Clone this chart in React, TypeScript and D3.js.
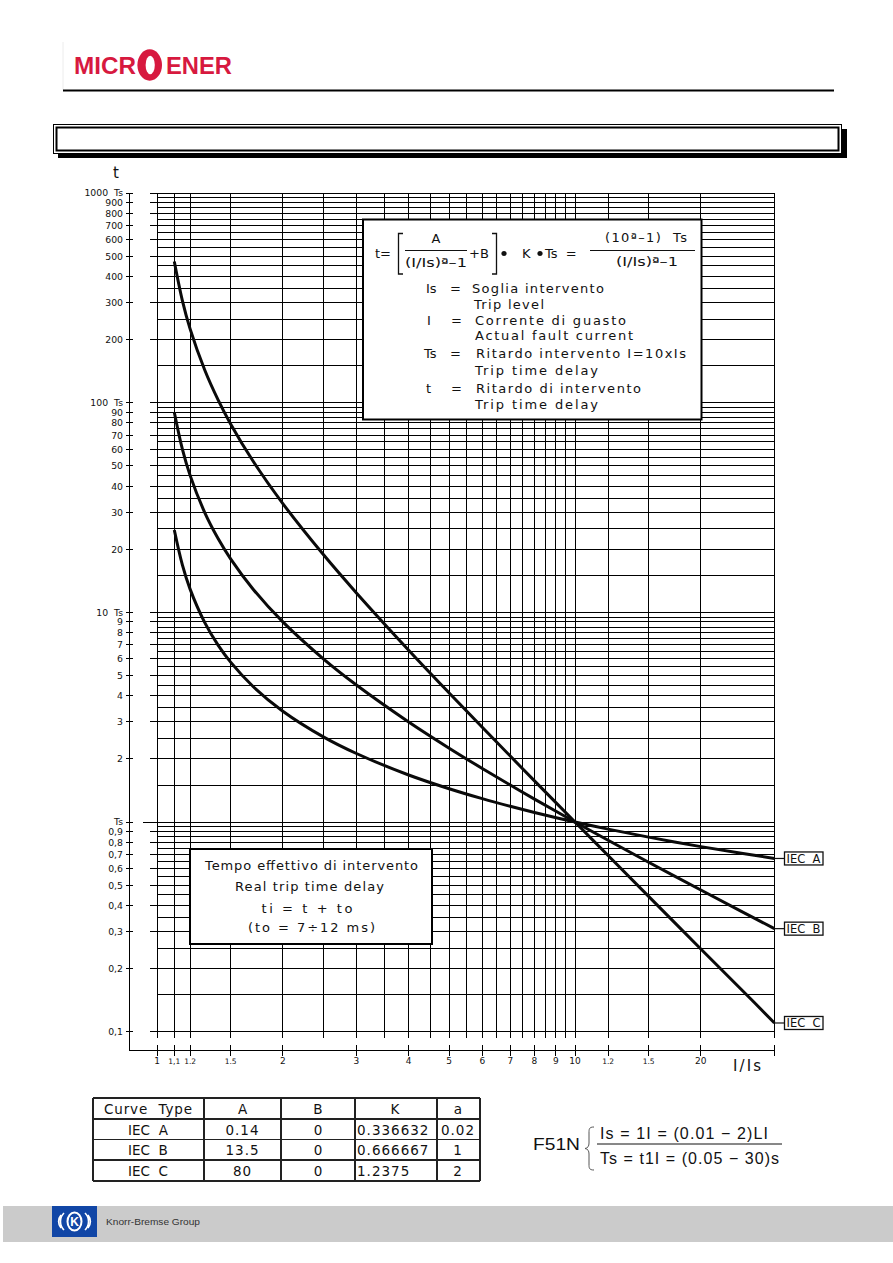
import React from "react";
import * as d3 from "d3";

// ---------- DATA ----------
const currentRatio = [1.1, 1.15, 1.2, 1.3, 1.4, 1.5, 1.7, 2, 2.5, 3, 4, 5, 6, 7, 8, 10, 12, 15, 20, 25, 30];
const iecA = [24.7, 16.84, 12.9, 8.958, 6.98, 5.788, 4.418, 3.376, 2.548, 2.122, 1.676, 1.441, 1.292, 1.188, 1.11, 1.0, 0.925, 0.847, 0.763, 0.709, 0.67];
const iecB = [90, 60, 45, 30, 22.5, 18, 12.86, 9, 6, 4.5, 3, 2.25, 1.8, 1.5, 1.286, 1.0, 0.818, 0.643, 0.474, 0.375, 0.31];
const iecC = [471.4, 307.0, 225, 143.5, 103.1, 79.2, 52.38, 33, 18.86, 12.38, 6.6, 4.125, 2.829, 2.063, 1.571, 1.0, 0.692, 0.442, 0.248, 0.159, 0.11];
const seriesNames = ["IEC  A", "IEC  B", "IEC  C"];

const xTickValues = [1, 1.1, 1.2, 1.5, 2, 3, 4, 5, 6, 7, 8, 9, 10, 12, 15, 20];
const xTickLabels = ["1", "1,1", "1.2", "1.5", "2", "3", "4", "5", "6", "7", "8", "9", "10", "1.2", "1.5", "20"];
const xMax = 30;

const yTickValues = [1000, 900, 800, 700, 600, 500, 400, 300, 200, 100, 90, 80, 70, 60, 50, 40, 30, 20, 10, 9, 8, 7, 6, 5, 4, 3, 2, 1, 0.9, 0.8, 0.7, 0.6, 0.5, 0.4, 0.3, 0.2, 0.1];
const yTickLabels = ["1000  Ts", "900", "800", "700", "600", "500", "400", "300", "200", "100  Ts", "90", "80", "70", "60", "50", "40", "30", "20", "10  Ts", "9", "8", "7", "6", "5", "4", "3", "2", "Ts", "0,9", "0,8", "0,7", "0,6", "0,5", "0,4", "0,3", "0,2", "0,1"];

const tableHeader = ["Curve  Type", "A", "B", "K", "a"];
const curveTypes = ["IEC  A", "IEC  B", "IEC  C"];
const paramA = ["0.14", "13.5", "80"];
const paramB = ["0", "0", "0"];
const paramK = ["0.336632", "0.666667", "1.2375"];
const paramAlpha = ["0.02", "1", "2"];

// ---------- LAYOUT ----------
const W = 893;
const H = 1263;
const x = d3.scaleLog().domain([1, 10]).range([157, 575]);
const y = d3.scaleLog().domain([1, 1000]).range([822, 193]);
const AXIS_X = 129.5;
const AXIS_Y = 1050.5;
const GRID_BOTTOM = 1038;
const GRID_LEFT_MAJOR = 150;
const CAD = "'DejaVu Sans', sans-serif";
const ARIAL = "'Liberation Sans', Arial, sans-serif";
const PRE = { whiteSpace: "pre" as const };

function App() {
  const hLines: { v: number; major: boolean }[] = [];
  [0.1, 1, 10, 100].forEach((dec) => {
    d3.range(2, 20).forEach((k) => hLines.push({ v: (k / 2) * dec, major: k % 2 === 0 }));
  });
  hLines.push({ v: 1000, major: true });

  const vLines = [1, 1.1, 1.2, 1.5, ...d3.range(2, 10, 0.5), 10, 12, 15, 20, xMax];
  const xRight = x(xMax);

  const line = d3
    .line<[number, number]>()
    .x((d) => x(d[0]))
    .y((d) => y(d[1]))
    .curve(d3.curveCatmullRom.alpha(0.5));
  const series = [iecA, iecB, iecC].map((s) => currentRatio.map((c, i) => [c, s[i]] as [number, number]));

  const colX = [93, 204, 281, 355, 437, 480];
  const rowY = [1098, 1119, 1139.5, 1160, 1181];

  return (
    <svg width={W} height={H} style={{ position: "absolute", left: 0, top: 0, background: "#fff" }} xmlns="http://www.w3.org/2000/svg">
      <rect x={0} y={0} width={W} height={H} fill="#fff" />
      {/* header */}
      <line x1={63} y1={42} x2={63} y2={90} stroke="#ececec" />
      <text x={74} y={74} fontFamily="'Liberation Sans Narrow', 'Liberation Sans', sans-serif" fontWeight="bold" fontSize={24} fill="#d7193f" textLength={62} lengthAdjust="spacingAndGlyphs">MICR</text>
      <ellipse cx={149.7} cy={65} rx={12.3} ry={15.7} fill="#d7193f" />
      <ellipse cx={150.2} cy={65} rx={4.6} ry={9.2} fill="#fff" />
      <text x={166} y={74} fontFamily="'Liberation Sans Narrow', 'Liberation Sans', sans-serif" fontWeight="bold" fontSize={24} fill="#d7193f" textLength={66} lengthAdjust="spacingAndGlyphs">ENER</text>
      <line x1={63} y1={90.5} x2={834} y2={90.5} stroke="#000" strokeWidth={2} />

      {/* title box */}
      <rect x={58} y={129} width={789} height={29} fill="#000" />
      <rect x={53.5} y={124.5} width={788} height={29} fill="#fff" stroke="#000" strokeWidth={1} />
      <rect x={56.5} y={127.5} width={782} height={23} fill="none" stroke="#000" strokeWidth={2} />

      <text x={116} y={178} fontFamily={CAD} fontSize={15} textAnchor="middle" fill="#111">t</text>

      {/* grid */}
      <g shapeRendering="crispEdges" stroke="#000">
        {hLines.map((h, i) => (
          <line key={"h" + i} x1={h.v === 1 ? 143 : h.major ? GRID_LEFT_MAJOR : 157} x2={xRight} y1={y(h.v)} y2={y(h.v)} strokeWidth={1} />
        ))}
        {vLines.map((v, i) => (
          <line key={"v" + i} x1={x(v)} x2={x(v)} y1={y(1000)} y2={GRID_BOTTOM} strokeWidth={1} />
        ))}
        <line x1={AXIS_X} x2={AXIS_X} y1={y(1000)} y2={AXIS_Y} strokeWidth={1.2} />
        <line x1={AXIS_X} x2={xRight} y1={AXIS_Y} y2={AXIS_Y} strokeWidth={1.2} />
        {yTickValues.map((v, i) => (
          <line key={"yt" + i} x1={126} x2={133} y1={y(v)} y2={y(v)} strokeWidth={1} />
        ))}
        {[...xTickValues, xMax].map((v, i) => (
          <line key={"xt" + i} x1={x(v)} x2={x(v)} y1={1045} y2={1056} strokeWidth={1} />
        ))}
      </g>

      {yTickValues.map((v, i) => (
        <text key={"yl" + i} x={123} y={y(v) + 3.4} textAnchor="end" fontFamily={CAD} fontSize={9.3} fill="#111" style={PRE}>
          {yTickLabels[i]}
        </text>
      ))}
      {xTickValues.map((v, i) => (
        <text key={"xl" + i} x={x(v)} y={1064} textAnchor="middle" fontFamily={CAD} fontSize={xTickLabels[i].length > 2 ? 7.5 : 9} fill="#111">
          {xTickLabels[i]}
        </text>
      ))}
      <text x={733} y={1071} fontFamily={CAD} fontSize={15} fill="#111" textLength={28} lengthAdjust="spacing">I/Is</text>

      {/* formula box */}
      <rect x={363} y={219.5} width={338.5} height={200} fill="#fff" stroke="#000" strokeWidth={2} />
      <g fontFamily={CAD} fontSize={13} fill="#111">
        <text x={375} y={258}>t=</text>
        <path d="M403,233.5 H398.5 V274 H403" fill="none" stroke="#111" strokeWidth={1.3} />
        <path d="M492,233.5 H496.5 V274 H492" fill="none" stroke="#111" strokeWidth={1.3} />
        <text x={436} y={243} textAnchor="middle">A</text>
        <line x1={405} x2={467} y1={250.5} y2={250.5} stroke="#111" strokeWidth={1} />
        <text x={436} y={267} textAnchor="middle" textLength={62} lengthAdjust="spacingAndGlyphs">(I/Is)ª–1</text>
        <text x={469} y={258}>+B</text>
        <circle cx={504} cy={253.5} r={2.6} fill="#111" />
        <text x={522} y={258}>K</text>
        <circle cx={540} cy={253.5} r={2.6} fill="#111" />
        <text x={545} y={258} style={PRE}>Ts  =</text>
        <text x={646} y={242} textAnchor="middle" textLength={82} lengthAdjust="spacing" style={PRE}>(10ª–1)  Ts</text>
        <line x1={590} x2={695} y1={250.5} y2={250.5} stroke="#111" strokeWidth={1} />
        <text x={647} y={266} textAnchor="middle" textLength={62} lengthAdjust="spacingAndGlyphs">(I/Is)ª–1</text>

        <text x={426} y={293}>Is</text>
        <text x={450} y={293}>=</text>
        <text x={472} y={293} textLength={132} lengthAdjust="spacing">Soglia intervento</text>
        <text x={474} y={309} textLength={70} lengthAdjust="spacing">Trip level</text>
        <text x={427} y={325}>I</text>
        <text x={451} y={325}>=</text>
        <text x={475} y={325} textLength={151} lengthAdjust="spacing">Corrente di guasto</text>
        <text x={475} y={339.5} textLength={158} lengthAdjust="spacing">Actual fault current</text>
        <text x={424} y={358}>Ts</text>
        <text x={450} y={358}>=</text>
        <text x={476} y={358} textLength={210} lengthAdjust="spacing">Ritardo intervento I=10xIs</text>
        <text x={475} y={375} textLength={123} lengthAdjust="spacing">Trip time delay</text>
        <text x={426} y={392.5}>t</text>
        <text x={451} y={392.5}>=</text>
        <text x={476} y={392.5} textLength={165} lengthAdjust="spacing">Ritardo di intervento</text>
        <text x={475} y={409} textLength={123} lengthAdjust="spacing">Trip time delay</text>
      </g>

      {/* real trip time box */}
      <rect x={190} y={849} width={242} height={95} fill="#fff" stroke="#000" strokeWidth={2} />
      <g fontFamily={CAD} fontSize={13} fill="#111" textAnchor="middle">
        <text x={311.5} y={870} textLength={213} lengthAdjust="spacing">Tempo effettivo di intervento</text>
        <text x={309.5} y={890.5} textLength={149} lengthAdjust="spacing">Real trip time delay</text>
        <text x={307} y={912.5} textLength={91} lengthAdjust="spacing">ti = t + to</text>
        <text x={311.5} y={931.5} textLength={127} lengthAdjust="spacing">(to = 7÷12 ms)</text>
      </g>

      {/* curves */}
      {series.map((s, i) => (
        <path key={"c" + i} d={line(s) || ""} fill="none" stroke="#0a0a0a" strokeWidth={3} strokeLinejoin="round" />
      ))}

      {series.map((s, i) => {
        const last = s[s.length - 1];
        const cy = y(last[1]);
        return (
          <g key={"lab" + i}>
            <line x1={xRight} x2={784.5} y1={cy} y2={cy} stroke="#111" strokeWidth={1.2} />
            <rect x={784.5} y={cy - 6.5} width={38.5} height={13} fill="#fff" stroke="#111" strokeWidth={1.3} />
            <text x={786.5} y={cy + 4.5} fontFamily={CAD} fontSize={11.5} fill="#111" textLength={34} lengthAdjust="spacingAndGlyphs" style={PRE}>
              {seriesNames[i]}
            </text>
          </g>
        );
      })}

      {/* parameter table */}
      <g stroke="#222" strokeWidth={1.1} shapeRendering="crispEdges">
        {rowY.map((ry, i) => (
          <line key={"tr" + i} x1={colX[0]} x2={colX[colX.length - 1]} y1={ry} y2={ry} />
        ))}
        {colX.map((cx, i) => (
          <line key={"tc" + i} x1={cx} x2={cx} y1={rowY[0]} y2={rowY[rowY.length - 1]} />
        ))}
      </g>
      <g fontFamily={CAD} fontSize={13.5} fill="#111">
        <text x={148} y={1114} textAnchor="middle" textLength={88} lengthAdjust="spacing" style={PRE}>{tableHeader[0]}</text>
        <text x={242.5} y={1114} textAnchor="middle">{tableHeader[1]}</text>
        <text x={318} y={1114} textAnchor="middle">{tableHeader[2]}</text>
        <text x={395} y={1114} textAnchor="middle">{tableHeader[3]}</text>
        <text x={458} y={1114} textAnchor="middle">{tableHeader[4]}</text>
        {curveTypes.map((c, i) => {
          const by = 1134.5 + i * 20.7;
          return (
            <g key={"row" + i}>
              <text x={148} y={by} textAnchor="middle" style={PRE}>{c}</text>
              <text x={242.5} y={by} textAnchor="middle" letterSpacing={1}>{paramA[i]}</text>
              <text x={318} y={by} textAnchor="middle">{paramB[i]}</text>
              <text x={357} y={by} letterSpacing={1}>{paramK[i]}</text>
              <text x={458} y={by} textAnchor="middle" letterSpacing={1}>{paramAlpha[i]}</text>
            </g>
          );
        })}
      </g>

      {/* F51N settings */}
      <g fontFamily={ARIAL} fill="#111">
        <text x={533} y={1150} fontSize={17} textLength={47} lengthAdjust="spacingAndGlyphs">F51N</text>
        <path d="M594,1127 C589,1127 589,1129 589,1133 L589,1143 C589,1146 588,1148 585,1148.5 C588,1149 589,1151 589,1154 L589,1164 C589,1168 589,1170 594,1170" fill="none" stroke="#555" strokeWidth={1} />
        <text x={600} y={1139} fontSize={16} textLength={168} lengthAdjust="spacing">Is = 1I = (0.01 − 2)LI</text>
        <line x1={597} x2={782} y1={1144} y2={1144} stroke="#111" strokeWidth={1} />
        <text x={600} y={1164} fontSize={16} textLength={179} lengthAdjust="spacing">Ts = t1I = (0.05 − 30)s</text>
      </g>

      {/* footer */}
      <rect x={3} y={1206} width={890} height={36} fill="#cbcbcb" />
      <rect x={52} y={1206} width={45} height={31} fill="#1146a6" />
      <ellipse cx={74.5} cy={1221.5} rx={7} ry={9} fill="none" stroke="#fff" strokeWidth={2} />
      <path d="M64,1213 A12,12 0 0 0 64,1230 M61,1215 A10,10 0 0 0 61,1228 M85,1213 A12,12 0 0 1 85,1230 M88,1215 A10,10 0 0 1 88,1228" fill="none" stroke="#fff" strokeWidth={1.6} />
      <text x={74.5} y={1226} textAnchor="middle" fontFamily={ARIAL} fontWeight="bold" fontSize={12} fill="#fff">K</text>
      <text x={106} y={1225} fontFamily={ARIAL} fontSize={9.5} fill="#333" textLength={94} lengthAdjust="spacingAndGlyphs">Knorr-Bremse Group</text>
    </svg>
  );
}

export default App;
